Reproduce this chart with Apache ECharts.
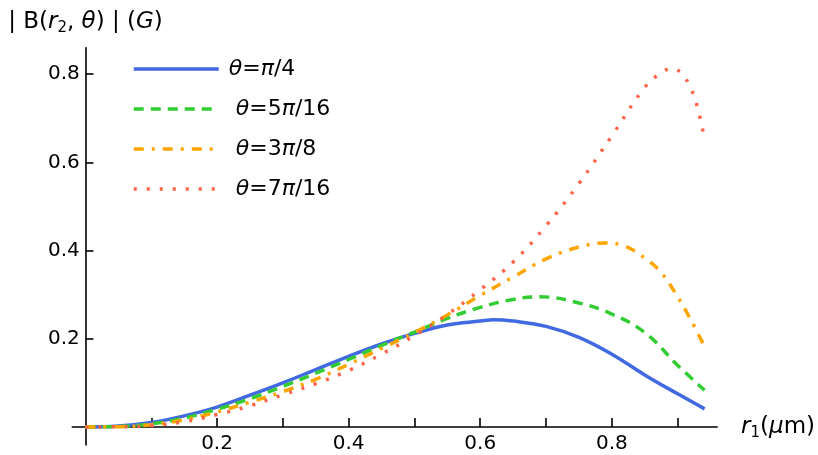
<!DOCTYPE html>
<html>
<head>
<meta charset="utf-8">
<script src="https://cdn.jsdelivr.net/npm/echarts@6/dist/echarts.min.js"></script>
<style>html,body{margin:0;padding:0;background:#fff}#c{width:818px;height:455px}</style>
</head>
<body>
<div id="c"></div>
<script>
// ---- data ----
const seriesNames = ['θ=π/4', 'θ=5π/16', 'θ=3π/8', 'θ=7π/16'];

const xBlue = [0, 0.05, 0.1, 0.15, 0.2, 0.25, 0.3, 0.35, 0.4, 0.45, 0.5, 0.55, 0.6, 0.62, 0.65, 0.7, 0.75, 0.8, 0.85, 0.9, 0.941];
const yBlue = [0, 0.002, 0.010, 0.025, 0.045, 0.072, 0.100, 0.130, 0.160, 0.188, 0.212, 0.231, 0.240, 0.243, 0.240, 0.228, 0.203, 0.165, 0.118, 0.075, 0.041];

const xGreen = [0, 0.05, 0.1, 0.15, 0.2, 0.25, 0.3, 0.35, 0.4, 0.45, 0.5, 0.55, 0.6, 0.65, 0.69, 0.75, 0.8, 0.85, 0.9, 0.941];
const yGreen = [0, 0.001, 0.007, 0.020, 0.040, 0.064, 0.092, 0.122, 0.153, 0.185, 0.215, 0.246, 0.271, 0.289, 0.295, 0.281, 0.256, 0.214, 0.140, 0.083];

const xOrange = [0, 0.05, 0.1, 0.15, 0.2, 0.25, 0.3, 0.35, 0.4, 0.45, 0.5, 0.55, 0.6, 0.65, 0.7, 0.75, 0.79, 0.82, 0.85, 0.875, 0.9, 0.92, 0.941];
const yOrange = [0, 0.0005, 0.005, 0.016, 0.034, 0.056, 0.080, 0.108, 0.142, 0.178, 0.214, 0.254, 0.298, 0.340, 0.381, 0.408, 0.417, 0.410, 0.383, 0.350, 0.295, 0.243, 0.182];

const xRed = [0, 0.05, 0.1, 0.15, 0.2, 0.25, 0.3, 0.35, 0.4, 0.45, 0.5, 0.55, 0.6, 0.65, 0.7, 0.75, 0.8, 0.85, 0.875, 0.892, 0.907, 0.92, 0.93, 0.941];
const yRed = [0, 0.0003, 0.003, 0.012, 0.028, 0.048, 0.073, 0.098, 0.128, 0.165, 0.207, 0.255, 0.311, 0.374, 0.456, 0.552, 0.660, 0.770, 0.803, 0.813, 0.800, 0.768, 0.726, 0.652];

const xTickValues = [0.1, 0.2, 0.3, 0.4, 0.5, 0.6, 0.7, 0.8, 0.9];
const xLabelValues = [0.2, 0.4, 0.6, 0.8];
const yTickValues = [0.2, 0.4, 0.6, 0.8];
// ---------------------------------------

const FONT = 'DejaVu Sans';
const pairs = (xs, ys) => xs.map((x, i) => [x, ys[i]]);

const colors = ['#4169E1', '#32CD32', '#FFA500', '#FF6347'];
const dashes = ['solid', [10, 7], [10, 8, 3, 8], [3, 10]];
const widths = [3.5, 3.5, 3.5, 3.5];
const smoothing = [0.4, 0.45, 0.4, 0.4];
const datas = [pairs(xBlue, yBlue), pairs(xGreen, yGreen), pairs(xOrange, yOrange), pairs(xRed, yRed)];

const legendRich = {
  i: { fontFamily: FONT, fontStyle: 'italic', fontSize: 22, color: '#000' },
  n: { fontFamily: FONT, fontSize: 22, color: '#000' }
};
function legendFmt(name) {
  const rest = name.slice(2, name.length);
  const parts = rest.split('π');
  return '{i|θ}{n|=' + parts[0] + '}{i|π}{n|' + parts[1] + '}';
}

const chart = echarts.init(document.getElementById('c'), null, { renderer: 'canvas' });
chart.setOption({
  animation: false,
  backgroundColor: '#fff',
  textStyle: { fontFamily: FONT },
  grid: { left: 72.3, top: 47.7, width: 644.8, height: 397.3, containLabel: false, outerBoundsMode: 'none' },
  legend: {
    orient: 'vertical',
    left: 127,
    top: 52,
    itemWidth: 85,
    itemHeight: 14,
    itemGap: 16,
    align: 'left',
    formatter: legendFmt,
    itemStyle: { color: 'rgba(0,0,0,0)', borderWidth: 0, opacity: 0 },
    lineStyle: { width: 3.5 },
    textStyle: { fontFamily: FONT, fontSize: 22, color: '#000', lineHeight: 24, rich: legendRich, padding: [0, 0, 0, 12] },
    data: seriesNames.map((n, k) => ({
      name: n,
      textStyle: { padding: [0, 0, 0, k === 0 ? 5 : 12] }
    }))
  },
  xAxis: {
    type: 'value',
    min: -0.02,
    max: 0.96,
    splitLine: { show: false },
    axisLine: { onZero: true, lineStyle: { color: '#000', width: 1.6 } },
    axisTick: { inside: true, length: 9, lineStyle: { color: '#000', width: 1.6 }, customValues: xTickValues },
    axisLabel: { customValues: xLabelValues, fontSize: 20, color: '#000', margin: -11, fontFamily: FONT,
      formatter: (v) => v.toFixed(1) },
    name: '{i|r}{s|1}{n|(}{i|μ}{n|m)}',
    nameLocation: 'end',
    nameGap: 24,
    nameTextStyle: {
      rich: {
        i: { fontFamily: FONT, fontStyle: 'italic', fontSize: 23, color: '#000' },
        n: { fontFamily: FONT, fontSize: 23, color: '#000' },
        s: { fontFamily: FONT, fontSize: 15, color: '#000', padding: [12, 0, 0, 0] }
      }
    }
  },
  yAxis: {
    type: 'value',
    min: -0.041,
    max: 0.86,
    splitLine: { show: false },
    axisLine: { onZero: true, lineStyle: { color: '#000', width: 1.6 } },
    axisTick: { inside: true, length: 8, lineStyle: { color: '#000', width: 1.6 }, customValues: yTickValues },
    axisLabel: { customValues: yTickValues, fontSize: 20, color: '#000', margin: -7.5, fontFamily: FONT,
      formatter: (v) => v.toFixed(1) },
    name: '{n|| B(}{i|r}{s|2}{n|, }{i|θ}{n|) | (}{i|G}{n|)}',
    nameLocation: 'end',
    nameGap: 12,
    nameTextStyle: {
      align: 'center',
      rich: {
        i: { fontFamily: FONT, fontStyle: 'italic', fontSize: 23, color: '#000' },
        n: { fontFamily: FONT, fontSize: 23, color: '#000' },
        s: { fontFamily: FONT, fontSize: 15, color: '#000', padding: [12, 0, 0, 0] }
      }
    }
  },
  series: seriesNames.map((n, k) => ({
    name: n,
    type: 'line',
    data: datas[k],
    smooth: smoothing[k],
    showSymbol: false,
    symbol: 'none',
    color: colors[k],
    lineStyle: { color: colors[k], width: widths[k], type: dashes[k], cap: 'butt' }
  }))
});
</script>
</body>
</html>
